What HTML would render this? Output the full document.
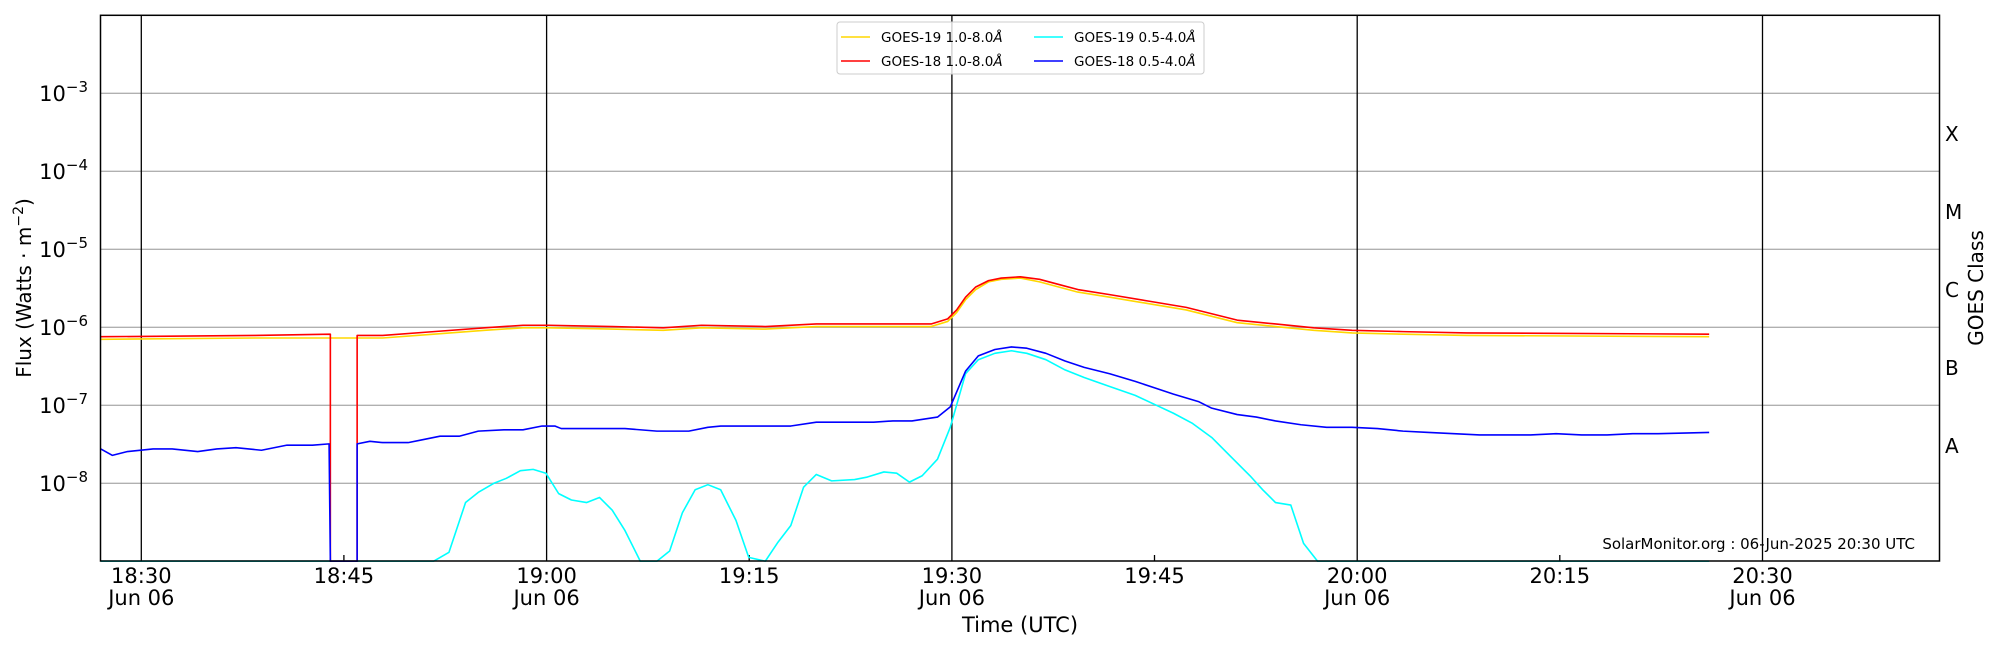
<!DOCTYPE html>
<html><head><meta charset="utf-8"><style>
body{margin:0;background:#fff;}
svg{display:block;font-family:"DejaVu Sans","Liberation Sans",sans-serif;}
</style></head><body>
<svg width="2000" height="650" viewBox="0 0 2000 650" xmlns="http://www.w3.org/2000/svg">
<rect width="2000" height="650" fill="#fff"/>
<g id="grid" stroke="#b0b0b0" stroke-width="1.3">
<line x1="100.5" x2="1939.5" y1="93.3" y2="93.3"/>
<line x1="100.5" x2="1939.5" y1="171.3" y2="171.3"/>
<line x1="100.5" x2="1939.5" y1="249.3" y2="249.3"/>
<line x1="100.5" x2="1939.5" y1="327.3" y2="327.3"/>
<line x1="100.5" x2="1939.5" y1="405.3" y2="405.3"/>
<line x1="100.5" x2="1939.5" y1="483.3" y2="483.3"/>
</g>
<g stroke="#000" stroke-width="1.3">
<line x1="141.3" x2="141.3" y1="15.3" y2="561"/>
<line x1="546.6" x2="546.6" y1="15.3" y2="561"/>
<line x1="951.9" x2="951.9" y1="15.3" y2="561"/>
<line x1="1357.2" x2="1357.2" y1="15.3" y2="561"/>
<line x1="1762.5" x2="1762.5" y1="15.3" y2="561"/>
<line x1="343.9" x2="343.9" y1="561" y2="555"/>
<line x1="749.2" x2="749.2" y1="561" y2="555"/>
<line x1="1154.5" x2="1154.5" y1="561" y2="555"/>
<line x1="1559.8" x2="1559.8" y1="561" y2="555"/>
</g>
<g id="ticks" stroke="#000" stroke-width="1"></g>
<g transform="scale(1.2755)" fill="none" stroke-width="1.6" stroke-linejoin="round">
<polyline vector-effect="non-scaling-stroke" stroke="#00ffff" points="79,440 340,440 352,433 365,394 375,386 387,379 397,375 408,369 418,368 428,371 438,387 448,392 460,394 470,390 480,400 490,416 502,440 515,440 525,432 535,402 545,384 555,380 565,384 577,408 587,437 600,440 610,425 620,412 630,382 640,372 652,377 670,376 680,374 693,370 703,371 713,378 723,373 735,360 745,335 757,293 767,282 780,277 793,275 805,277 820,282 835,290 850,296 870,303 890,310 905,317 920,324 935,332 950,343 965,358 980,373 990,384 1000,394 1012,396 1022,426 1033,440 1340,440"/>
<polyline vector-effect="non-scaling-stroke" stroke="#ffd700" points="79,266 200,265 259,265 300,265 340,262 380,259 410,257 430,257 480,258 520,259 550,257 600,258 640,256 680,256 730,256 743,252 750,245 757,235 765,227 775,221 785,219 800,218 815,221 830,225 845,229 870,233 900,238 930,243 950,248 970,253 1000,256 1030,259 1060,261 1100,262 1150,263 1340,264"/>
<polyline vector-effect="non-scaling-stroke" stroke="#ff0000" points="79,264 200,263 259,262 259,440 280,440 280,263 300,263 340,260 380,257 410,255 430,255 480,256 520,257 550,255 600,256 640,254 680,254 730,254 743,250 750,243 757,233 765,225 775,220 785,218 800,217 815,219 830,223 845,227 870,231 900,236 930,241 950,246 970,251 1000,254 1030,257 1060,259 1100,260 1150,261 1340,262"/>
<polyline vector-effect="non-scaling-stroke" stroke="#0000ff" points="79,352 88,357 100,354 120,352 135,352 155,354 170,352 185,351 205,353 225,349 245,349 258,348 259,440 280,440 280,348 290,346 300,347 320,347 330,345 345,342 360,342 375,338 395,337 410,337 425,334 435,334 440,336 470,336 490,336 515,338 540,338 555,335 565,334 580,334 600,334 620,334 640,331 660,331 685,331 700,330 715,330 735,327 745,319 757,291 767,279 780,274 793,272 805,273 820,277 835,283 850,288 870,293 890,299 905,304 920,309 940,315 950,320 970,325 985,327 1000,330 1020,333 1040,335 1060,335 1080,336 1100,338 1120,339 1140,340 1160,341 1180,341 1200,341 1220,340 1240,341 1260,341 1280,340 1300,340 1340,339"/>
</g>
<rect x="100.5" y="15.3" width="1839" height="545.7" fill="none" stroke="#000" stroke-width="1.5"/>
<g font-size="21" text-anchor="end" fill="#000">
<text x="88" y="101">10<tspan dy="-9" font-size="15">−3</tspan></text>
<text x="88" y="179">10<tspan dy="-9" font-size="15">−4</tspan></text>
<text x="88" y="257">10<tspan dy="-9" font-size="15">−5</tspan></text>
<text x="88" y="335">10<tspan dy="-9" font-size="15">−6</tspan></text>
<text x="88" y="413">10<tspan dy="-9" font-size="15">−7</tspan></text>
<text x="88" y="491">10<tspan dy="-9" font-size="15">−8</tspan></text>
</g>
<g font-size="21" text-anchor="middle" fill="#000">
<text x="141.3" y="583">18:30</text><text x="141.3" y="605">Jun 06</text>
<text x="343.9" y="583">18:45</text>
<text x="546.6" y="583">19:00</text><text x="546.6" y="605">Jun 06</text>
<text x="749.2" y="583">19:15</text>
<text x="951.9" y="583">19:30</text><text x="951.9" y="605">Jun 06</text>
<text x="1154.5" y="583">19:45</text>
<text x="1357.2" y="583">20:00</text><text x="1357.2" y="605">Jun 06</text>
<text x="1559.8" y="583">20:15</text>
<text x="1762.5" y="583">20:30</text><text x="1762.5" y="605">Jun 06</text>
<text x="1020" y="632">Time (UTC)</text>
</g>
<text transform="translate(31,288) rotate(-90)" font-size="20" text-anchor="middle">Flux (Watts · m<tspan dy="-8" font-size="14">−2</tspan><tspan dy="8">)</tspan></text>
<text transform="translate(1983,288) rotate(-90)" font-size="20" text-anchor="middle">GOES Class</text>
<g font-size="20" fill="#000">
<text x="1945" y="141">X</text>
<text x="1945" y="219">M</text>
<text x="1945" y="297">C</text>
<text x="1945" y="375">B</text>
<text x="1945" y="453">A</text>
</g>
<text x="1915" y="549" font-size="15" text-anchor="end">SolarMonitor.org : 06-Jun-2025 20:30 UTC</text>
<rect x="837" y="22" width="367" height="52" rx="3" fill="#fff" fill-opacity="0.8" stroke="#ccc" stroke-width="1"/>
<g stroke-width="1.6">
<line x1="841" x2="870" y1="37" y2="37" stroke="#ffd700"/>
<line x1="841" x2="870" y1="61" y2="61" stroke="#ff0000"/>
<line x1="1034" x2="1063" y1="37" y2="37" stroke="#00ffff"/>
<line x1="1034" x2="1063" y1="61" y2="61" stroke="#0000ff"/>
</g>
<g font-size="13.5" fill="#000">
<text x="881" y="42">GOES-19 1.0-8.0<tspan font-style="italic">Å</tspan></text>
<text x="881" y="66">GOES-18 1.0-8.0<tspan font-style="italic">Å</tspan></text>
<text x="1074" y="42">GOES-19 0.5-4.0<tspan font-style="italic">Å</tspan></text>
<text x="1074" y="66">GOES-18 0.5-4.0<tspan font-style="italic">Å</tspan></text>
</g>
<script>
(function(){var g=document.getElementById('ticks'),s='';
for(var k=0;k<7;k++){var yb=15.3+(k+1)*78;
 for(var m=1;m<=9;m++){var y=yb-Math.log10(m)*78;var L=(m==1)?12:7;if(y<15.3)continue;
  s+='<line x1="100.5" x2="'+(100.5+L)+'" y1="'+y+'" y2="'+y+'"/>';
  s+='<line x1="1939.5" x2="'+(1939.5-L)+'" y1="'+y+'" y2="'+y+'"/>';}}
g.innerHTML=s;})();
</script>
</svg>
</body></html>
